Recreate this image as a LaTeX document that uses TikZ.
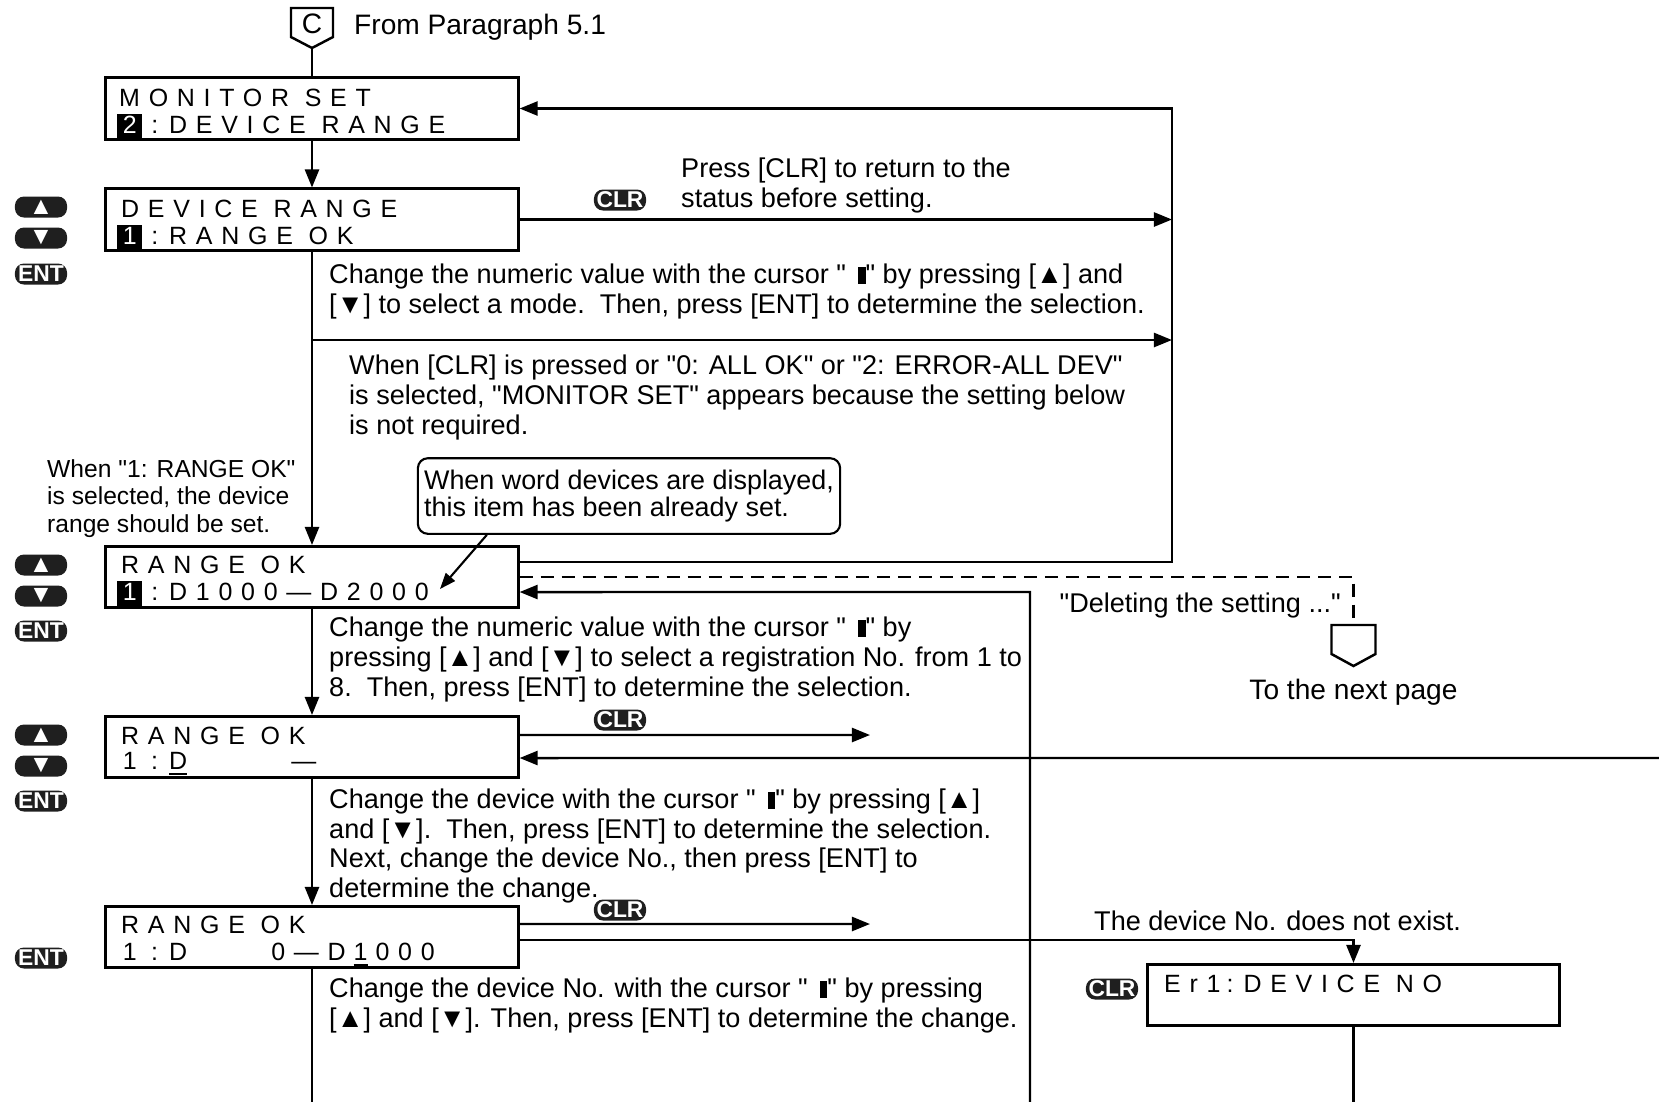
\documentclass[tikz,border=0pt]{standalone}
\usepackage{fontspec}
\setmainfont{Liberation Sans}
\newfontfamily\lcdfont{Liberation Sans}[LetterSpace=35]
\usetikzlibrary{arrows.meta}

% cursor mark, straight quote and highlighted digit on the display
\newcommand\cur{\rule{0.075cm}{0.17cm}}
\newcommand\dq{\textquotedbl}
\newcommand\hlch[1]{{\setlength\fboxsep{0pt}\colorbox{black}{\makebox[0.25cm]{\rule[-0.07cm]{0pt}{0.26cm}\textcolor{white}{#1}}}}}

\begin{document}
\begin{tikzpicture}[x=0.01cm,y=-0.01cm,line width=0.7pt,
    lcdbox/.style={draw,line width=0.85pt,minimum width=4.12cm,minimum height=0.61cm,inner sep=0pt},
    lcd/.style={anchor=base west,inner sep=0pt,font=\lcdfont\fontsize{7.1}{8}\selectfont},
    txt/.style={anchor=base west,inner sep=0pt,align=left,font=\fontsize{7.7}{8.4}\selectfont},
    key/.style={fill=black!88,rounded corners=0.09cm,minimum width=0.52cm,minimum height=0.21cm,
        inner sep=0pt,text=white,font=\bfseries\fontsize{6.5}{6.5}\selectfont},
    arw/.style={key,font=\fontsize{7}{7}\selectfont},
    flow/.style={-{Triangle[length=0.18cm,width=0.14cm]}}]
\useasboundingbox (0,0) rectangle (1659,1102);

% connector from 5.1
\draw (291,8) -- (333,8) -- (333,37) -- (312,48) -- (291,37) -- cycle;
\node[font=\fontsize{8}{8}\selectfont] (conC) at (312,24) {C};
\coordinate (conCb) at (312,48);
\node[txt,font=\fontsize{8}{8}\selectfont] (from) at (353,34) {From Paragraph 5.1};

% display boxes
\node[lcdbox] (mon) at (312,108.5) {};
\node[lcdbox] (dr) at (312,219.5) {};
\node[lcdbox] (ro1) at (312,577) {};
\node[lcdbox] (ro2) at (312,747) {};
\node[lcdbox] (ro3) at (312,937) {};
\node[lcdbox] (er) at (1353.5,995) {};

\node[lcd] (mon-a) at (118,106) {MONITOR SET};
\node[lcd] (mon-b) at (116,133) {\hlch{2}\kern0.09cm:\kern0.11cm DEVICE RANGE};
\node[lcd] (dr-a) at (120,217) {DEVICE RANGE};
\node[lcd] (dr-b) at (116,244) {\hlch{1}\kern0.09cm:\kern0.11cm RANGE OK};
\node[lcd] (ro1-a) at (120,573) {RANGE OK};
\node[lcd] (ro1-b) at (116,600) {\hlch{1}\kern0.09cm:\kern0.11cm D1000—D2000};
\node[lcd] (ro2-a) at (120,744) {RANGE OK};
\node[lcd] (ro2-b) at (116,769) {\makebox[1.74cm][l]{\makebox[0.25cm]{1}\kern0.09cm:\kern0.11cm \underline{D}}—};
\node[lcd] (ro3-a) at (120,933) {RANGE OK};
\node[lcd] (ro3-b) at (116,960) {\makebox[1.54cm][l]{\makebox[0.25cm]{1}\kern0.09cm:\kern0.11cm D}0—D\kern0.08cm\underline{1}\kern0.08cm 000};
\node[lcd] (er-a) at (1163,992) {Er1\kern0.06cm:\kern0.1cm DEVICE NO};

% keys
\node[arw] (up1) at (41,207) {▲};
\node[arw] (dn1) at (41,238) {▼};
\node[key] (ent1) at (41,274) {ENT};
\node[arw] (up2) at (41,565) {▲};
\node[arw] (dn2) at (41,596) {▼};
\node[key] (ent2) at (41,631) {ENT};
\node[arw] (up3) at (41,735) {▲};
\node[arw] (dn3) at (41,766) {▼};
\node[key] (ent3) at (41,801) {ENT};
\node[key] (ent4) at (41,958) {ENT};
\node[key] (clr1) at (620,200) {CLR};
\node[key] (clr2) at (620,720) {CLR};
\node[key] (clr3) at (620,910) {CLR};
\node[key] (clr4) at (1112,989) {CLR};

% texts (base = last line)
\node[txt] (clrnote) at (680,207.5) {Press [CLR] to return to the\\status before setting.};
\node[txt] (selmode) at (328,313.5) {Change the numeric value with the cursor \dq\ \,\cur\dq{} by pressing [▲] and\\{}[▼] to select a mode.\ \ Then, press [ENT] to determine the selection.};
\node[txt] (skipnote) at (348,434) {When [CLR] is pressed or \dq0: ALL OK\dq{} or \dq2: ERROR-ALL DEV\dq\\is selected, \dq MONITOR SET\dq{} appears because the setting below\\is not required.};
\node[txt,font=\fontsize{7}{7.8}\selectfont] (rngnote) at (46,532) {When \dq1: RANGE OK\dq\\is selected, the device\\range should be set.};
\node[draw,rounded corners=0.1cm,line width=0.6pt,minimum width=4.22cm,minimum height=0.7cm,
    inner xsep=0.04cm,align=left,font=\fontsize{7.65}{7.7}\selectfont] (word) at (629,496)
    {When word devices are displayed,\\this item has been already set.};
\node[txt] (selreg) at (328,696) {Change the numeric value with the cursor \dq\ \,\cur\dq{} by\\pressing [▲] and [▼] to select a registration No. from 1 to\\8.\ \ Then, press [ENT] to determine the selection.};
\node[txt] (seldev) at (328,897.5) {Change the device with the cursor \dq\ \,\cur\dq{} by pressing [▲]\\and [▼].\ \ Then, press [ENT] to determine the selection.\\Next, change the device No., then press [ENT] to\\determine the change.};
\node[txt] (selno) at (328,1027.5) {Change the device No. with the cursor \dq\ \,\cur\dq{} by pressing\\{}[▲] and [▼]. Then, press [ENT] to determine the change.};
\node[txt,anchor=base east] (del) at (1342,612) {\dq Deleting the setting ...\dq};
\node[txt,anchor=base,font=\fontsize{8}{8}\selectfont] (nextpg) at (1353.5,699) {To the next page};
\node[txt] (noex) at (1093,930) {The device No. does not exist.};

% connector to the next page
\draw (1331.5,625) -- (1375.5,625) -- (1375.5,654) -- (1353.5,666) -- (1331.5,654) -- cycle;
\coordinate (nxt) at (1353.5,625);

% junction points
\coordinate (rt-top) at (1172,108.5);
\coordinate (br1) at (312,340);
\coordinate (rt-a) at (1172,340);
\coordinate (ret-top) at (1030,592);
\coordinate (ret-bot) at (1030,1102);
\coordinate (clr2-end) at (870,735);
\coordinate (rt-edge) at (1659,758);
\coordinate (clr3-end) at (870,924);
\coordinate (er-out) at (1353.5,1102);
\coordinate (main-out) at (312,1102);
\coordinate (word-tip) at (440,589);

% flow lines
\draw (conCb) -- (mon);
\draw[flow] (mon) -- (dr);
\draw[flow] (dr) -- (ro1);
\draw[flow] (br1) -- (rt-a);
\draw[flow] (dr.east) -- (dr.east -| rt-top);
\draw[flow] ([yshift=0.15cm]ro1.east) -| (rt-top) -- (mon.east);
\draw[dashed,dash pattern=on 0.13cm off 0.08cm] (ro1.east) -| (nxt);
\draw[flow] (ret-bot) -- (ret-top) -- ([yshift=-0.15cm]ro1.east);
\draw[flow] (ro1) -- (ro2);
\draw[flow] ([yshift=0.12cm]ro2.east) -- (clr2-end);
\draw[flow] (rt-edge) -- ([yshift=-0.11cm]ro2.east);
\draw[flow] (ro2) -- (ro3);
\draw[flow] ([yshift=0.13cm]ro3.east) -- (clr3-end);
\draw[flow] ([yshift=-0.03cm]ro3.east) -| (er.north);
\draw (er.south) -- (er-out);
\draw (ro3) -- (main-out);
\draw[-{Triangle[length=0.16cm,width=0.12cm]},line width=0.6pt] ([xshift=0.7cm]word.south west) -- (word-tip);
\end{tikzpicture}
\end{document}
